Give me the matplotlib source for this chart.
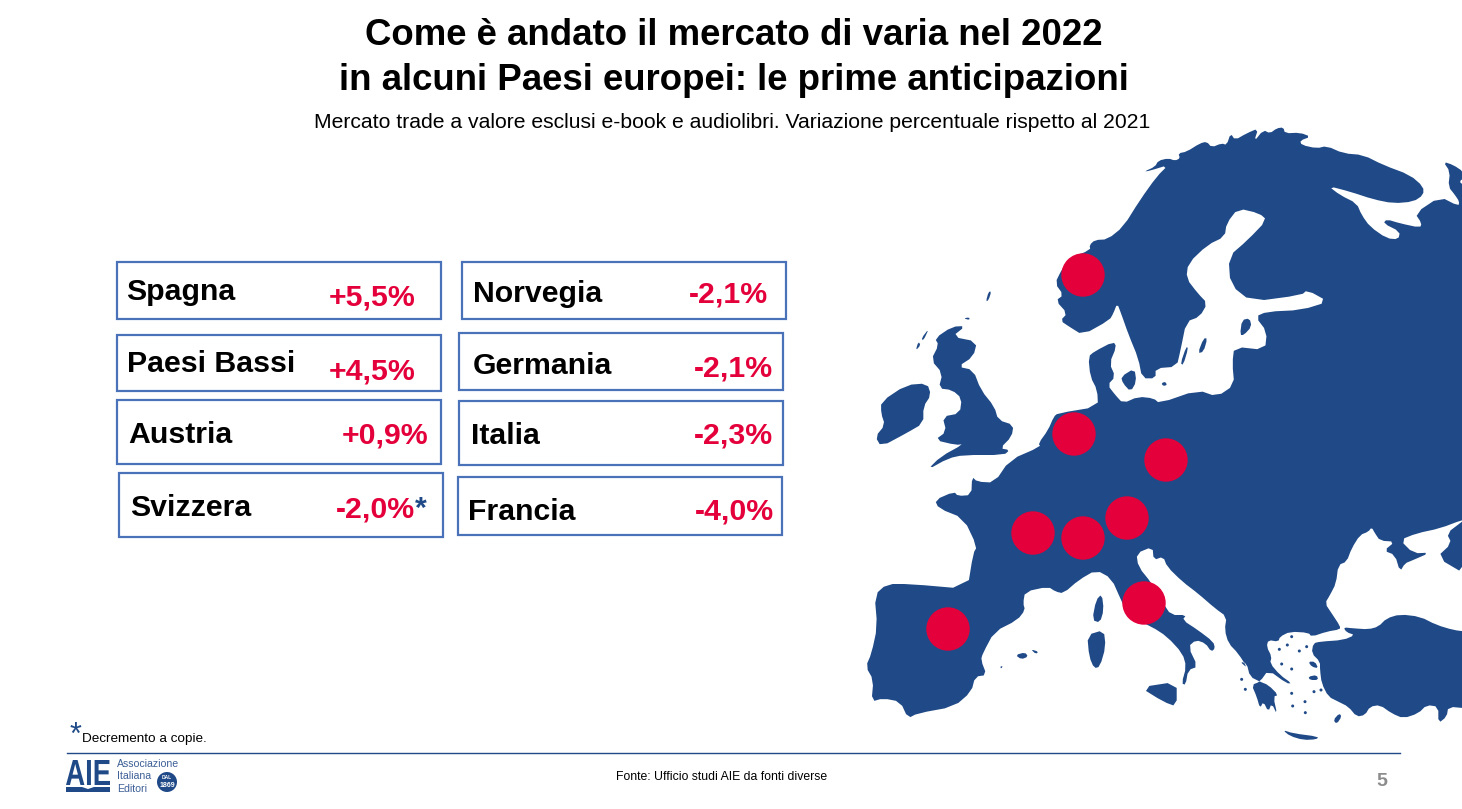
import matplotlib.pyplot as plt
from matplotlib.font_manager import FontProperties
from matplotlib.patches import Circle, PathPatch, Polygon, Rectangle
from matplotlib.text import TextPath
from matplotlib.transforms import Affine2D

plt.rcParams["font.family"] = ["Liberation Sans", "DejaVu Sans"]

# data
countries = ["Spagna", "Paesi Bassi", "Austria", "Svizzera", "Norvegia", "Germania", "Italia", "Francia"]
changes = [5.5, 4.5, 0.9, -2.0, -2.1, -2.1, -2.3, -4.0]
notes = ["", "", "", "*", "", "", "", ""]

# layout, in pixels of the slide
boxes = [
    (117, 262, 441, 319), (117, 335, 441, 391), (117, 400, 441, 464), (119, 473, 443, 537),
    (462, 262, 786, 319), (459, 333, 783, 390), (459, 401, 783, 465), (458, 477, 782, 535),
]
name_pos = [(126, 300), (127, 372), (128, 443), (130, 516), (473, 302), (473, 374), (471, 444), (468, 520)]
value_pos = [(415, 305), (415, 379), (428, 443), (415, 517), (768, 302), (773, 376), (773, 443), (774, 520)]
dot_pos = [(948, 629), (1074, 434), (1127, 518), (1083, 538), (1083, 275), (1166, 460), (1144, 603), (1033, 533)]

BLUE = "#1f4a87"
RED = "#e4003a"
EDGE = "#4a72b8"


# the map was traced on zoomed crops, so each crop has its own scale
def z1(pts):
    return [(860 + x / 2.605, 150 + y / 3) for x, y in pts]


def z2(pts):
    return [(860 + x / 2.605, 440 + y / 3) for x, y in pts]


def z4(pts):
    return [(1100 + x / 3, 120 + y / 3) for x, y in pts]


def z5(pts):
    return [(1240 + x / 3, 520 + y / 3) for x, y in pts]


# one pass of corner cutting so the coast doesn't look faceted
def smooth(pts):
    out = []
    for i, (x0, y0) in enumerate(pts):
        x1, y1 = pts[(i + 1) % len(pts)]
        out.append((0.75 * x0 + 0.25 * x1, 0.75 * y0 + 0.25 * y1))
        out.append((0.25 * x0 + 0.75 * x1, 0.25 * y0 + 0.75 * y1))
    return out


north = (
    z1([(580, 555), (545, 530), (522, 512), (540, 490), (510, 452), (530, 435), (508, 400), (525, 360), (545, 325),
        (600, 300), (598, 285), (612, 270), (645, 268)])
    + z4([(70, 320), (120, 240), (170, 170), (205, 135), (150, 152), (132, 155), (165, 140), (175, 122),
          (205, 115), (225, 122), (240, 115), (235, 100), (260, 95), (300, 70), (320, 65), (335, 82), (365, 70),
          (380, 75), (392, 40), (405, 60), (440, 40), (475, 25), (462, 65), (490, 30), (510, 40), (530, 25),
          (550, 22), (555, 40), (600, 38), (632, 50), (600, 62), (605, 75), (650, 85), (680, 78), (730, 100),
          (790, 105), (850, 135), (930, 165), (970, 200), (970, 225), (940, 245), (880, 250), (820, 238), (750, 215),
          (685, 198), (720, 225), (770, 250), (785, 285), (810, 320), (860, 355), (895, 358), (900, 335), (850, 310),
          (860, 298), (900, 310), (960, 323), (965, 310), (945, 280), (1020, 230), (1075, 258), (1078, 245),
          (1065, 225), (1045, 200), (1050, 155), (1030, 125), (1060, 135), (1090, 155), (1090, 175), (1078, 185),
          (1090, 195), (1090, 400), (1090, 900)])
    + z5([(680, 0), (666, 0), (600, 25), (530, 40), (480, 60), (520, 100), (570, 98), (515, 122), (495, 130), (480, 155),
          (465, 105), (432, 92), (465, 65), (420, 62), (405, 40), (395, 22), (385, 35), (360, 45), (335, 85),
          (320, 125), (295, 135), (288, 190), (270, 225), (255, 250), (275, 280), (300, 318), (300, 328), (260, 335),
          (215, 350), (205, 338), (150, 335), (120, 350), (115, 365), (85, 360), (80, 380), (95, 410), (90, 430),
          (120, 465), (155, 490), (140, 490), (85, 450), (60, 485), (35, 495), (50, 530), (60, 565), (70, 545),
          (85, 575), (95, 550), (112, 585), (100, 530), (115, 525), (85, 495), (60, 485), (30, 470), (20, 430),
          (0, 425)])
    + z2([(1010, 685), (985, 640), (960, 610), (950, 570), (955, 530), (925, 505), (880, 460), (840, 425), (800, 380),
          (790, 350), (765, 360), (762, 320), (720, 340), (725, 380), (760, 430), (790, 490), (810, 525), (850, 525),
          (840, 540), (880, 570), (920, 605), (925, 625), (915, 635), (900, 610), (875, 600), (855, 620), (880, 680),
          (855, 690), (848, 735), (838, 730), (850, 680), (840, 640), (800, 590), (760, 560), (700, 530), (680, 480),
          (655, 415), (615, 390), (570, 420), (530, 460), (510, 455), (490, 440), (430, 455), (425, 490), (430, 510),
          (410, 540), (350, 575), (320, 640), (315, 660), (330, 705), (300, 710), (290, 755), (245, 800), (150, 820),
          (125, 835), (105, 785), (60, 775), (30, 785), (35, 720), (15, 680), (30, 640), (45, 560), (38, 465),
          (70, 432), (130, 432), (280, 447), (295, 340), (305, 320), (270, 235), (205, 205), (195, 180), (245, 155),
          (255, 168), (290, 165), (292, 110), (305, 125), (350, 128), (390, 60), (470, 20)])
    + z1([(465, 880), (490, 840), (505, 800), (515, 790), (620, 770), (618, 720), (600, 680), (595, 620), (610, 605),
          (660, 575), (668, 590), (650, 640), (665, 680), (645, 705), (665, 735), (685, 760), (725, 740), (765, 745),
          (780, 760), (880, 720), (930, 740), (975, 705), (970, 640), (975, 590), (1055, 600), (1060, 545), (1030, 500),
          (1060, 485), (1150, 480), (1220, 455), (1165, 420), (1150, 435), (1020, 455), (965, 405), (960, 320),
          (1010, 270), (1060, 210), (1040, 190), (985, 175), (955, 220), (950, 260), (905, 285), (855, 340), (850, 385),
          (880, 430), (905, 460), (885, 500), (850, 515), (835, 600), (825, 650), (770, 655), (770, 685), (735, 685),
          (725, 625), (700, 555), (680, 490), (670, 460), (660, 490), (650, 510)])
)

islands = [
    north,
    z1([(55, 755), (120, 705), (175, 700), (185, 735), (165, 770), (165, 820), (120, 850), (55, 890), (40, 860),
        (65, 825), (55, 790)]),
    z1([(240, 530), (275, 528), (240, 560), (305, 575), (295, 620), (255, 650), (295, 660), (315, 720), (350, 770),
        (360, 810), (400, 825), (395, 860), (365, 895)])
    + z2([(390, 30), (375, 45), (270, 45), (230, 55), (175, 90), (210, 50), (270, 12)])
    + z1([(250, 885), (195, 870), (225, 845), (215, 800), (260, 790), (265, 745), (240, 720), (205, 715), (215, 670),
          (185, 630), (205, 585), (195, 565)]),
    z1([(160, 565), (180, 535), (165, 572)]),
    z1([(145, 602), (152, 575), (158, 585)]),
    z1([(328, 455), (335, 425), (342, 425), (335, 450)]),
    z1([(270, 505), (285, 502), (285, 510)]),
    z1([(680, 680), (715, 655), (720, 695), (705, 725), (685, 700)]),
    z1([(880, 610), (895, 565), (905, 565), (895, 605)]),
    z1([(835, 640), (850, 590), (855, 595), (842, 645)]),
    z1([(990, 555), (995, 510), (1015, 505), (1020, 530), (1000, 555)]),
    z1([(785, 700), (795, 695), (800, 705), (790, 708)]),
    z2([(605, 540), (615, 480), (630, 462), (635, 510), (625, 548)]),
    z2([(592, 585), (635, 570), (640, 620), (625, 680), (610, 685), (597, 650)]),
    z2([(730, 742), (825, 725), (825, 800), (790, 785)]),
    z2([(405, 645), (430, 637), (438, 650), (420, 658)]),
    z2([(445, 628), (465, 635), (458, 642)]),
    z2([(365, 680), (372, 678), (368, 686)]),
    z2([(310, 340), (318, 358), (312, 355)]),
    z5([(128, 630), (160, 640), (235, 650), (230, 658), (190, 660), (150, 648)]),
    z5([(280, 600), (298, 580), (305, 590), (290, 612)]),
    z5([(205, 425), (225, 425), (235, 445), (215, 440)]),
    z5([(205, 470), (230, 465), (235, 480), (210, 480)]),
    # Caucasus, runs off the slide
    z5([(680, -5), (666, 5), (620, 40), (635, 70), (590, 112), (680, 165)]),
    # Turkey
    z5([(220, 370), (240, 365), (310, 360), (345, 345), (320, 337), (310, 322), (340, 325), (385, 328), (415, 320),
        (440, 295), (480, 283), (540, 290), (590, 315), (640, 330), (680, 335), (680, 565), (625, 560), (620, 590),
        (595, 610), (595, 560), (560, 555), (535, 580), (490, 595), (455, 580), (420, 555), (390, 560), (375, 585),
        (350, 590), (325, 560), (295, 545), (265, 530), (245, 490), (240, 450), (240, 425), (215, 400)]),
]
# Aegean specks
specks = z5([(155, 350), (142, 375), (118, 388), (178, 393), (200, 380), (125, 432), (155, 447), (155, 520),
             (195, 545), (158, 558), (196, 578), (222, 515), (243, 510), (5, 478), (16, 508)])

fig = plt.figure(figsize=(14.62, 8.09), dpi=100)
ax = fig.add_axes([0, 0, 1, 1])
ax.set_xlim(0, 1462)
ax.set_ylim(809, 0)
ax.axis("off")

# map
for isl in islands:
    ax.add_patch(Polygon(smooth(isl), closed=True, facecolor=BLUE, edgecolor="none", zorder=1))
for x, y in specks:
    ax.add_patch(Circle((x, y), 1.5, facecolor=BLUE, edgecolor="none", zorder=1))

# title
ax.text(733.5, 45, "Come è andato il mercato di varia nel 2022", fontsize=26.35, fontweight="bold", ha="center", va="baseline")
ax.text(733.5, 90, "in alcuni Paesi europei: le prime anticipazioni", fontsize=26.35, fontweight="bold", ha="center", va="baseline")
ax.text(732.5, 128, "Mercato trade a valore esclusi e-book e audiolibri. Variazione percentuale rispetto al 2021",
        fontsize=15.25, ha="center", va="baseline")

# boxes, names, values
for i, name in enumerate(countries):
    x0, y0, x1, y1 = boxes[i]
    ax.add_patch(Rectangle((x0, y0), x1 - x0, y1 - y0, facecolor="white", edgecolor=EDGE, linewidth=1.6, zorder=2))
    ax.text(name_pos[i][0], name_pos[i][1], name, fontsize=21.8, fontweight="bold", va="baseline", zorder=3)
    label = f"{changes[i]:+.1f}%".replace(".", ",")
    ax.text(value_pos[i][0], value_pos[i][1], label, fontsize=21.8, fontweight="bold", color=RED,
            ha="right", va="baseline", zorder=3)
    if notes[i]:
        ax.text(value_pos[i][0], value_pos[i][1], notes[i], fontsize=21.8, fontweight="bold", color=BLUE,
                va="baseline", zorder=3)
    dx, dy = dot_pos[i]
    ax.add_patch(Circle((dx, dy), 21.7, facecolor=RED, edgecolor="none", zorder=4))

# footer
ax.text(70, 744, "*", fontsize=22, color=BLUE, va="baseline")
ax.text(82, 742, "Decremento a copie.", fontsize=9.7, va="baseline")
ax.plot([67, 1400], [752.5, 752.5], color=BLUE, linewidth=1.0)
ax.text(722, 780, "Fonte: Ufficio studi AIE da fonti diverse", fontsize=8.85, ha="center", va="baseline")
ax.text(1382, 786, "5", fontsize=14, fontweight="bold", color="#8c8c8c", ha="center", va="baseline")

# logo, the letters are squeezed to fit so they go in as a shape
logo = TextPath((0, 0), "AIE", size=36, prop=FontProperties(family="Liberation Sans", weight="bold"))
ext = logo.get_extents()
squeeze = Affine2D().translate(-ext.x0, -ext.y0).scale(44 / ext.width, -25 / ext.height).translate(66, 785)
ax.add_patch(PathPatch(logo, facecolor=BLUE, edgecolor="none", transform=squeeze + ax.transData))
ax.add_patch(Rectangle((66, 787), 44, 5, facecolor=BLUE, edgecolor="none"))
ax.add_patch(Polygon([(82, 787), (94, 787), (88, 789)], closed=True, facecolor="white", edgecolor="none"))
for y, word in zip([767, 779, 792], ["Associazione", "Italiana", "Editori"]):
    ax.text(117, y, word, fontsize=7.6, color="#3c5f96", va="baseline")
ax.add_patch(Circle((167, 782), 10, facecolor=BLUE, edgecolor="none"))
ax.text(167, 779, "DAL", fontsize=3.5, fontweight="bold", color="white", ha="center", va="baseline")
ax.text(167, 787, "1869", fontsize=5, fontweight="bold", color="white", ha="center", va="baseline")

plt.savefig("out.png", dpi=100)
